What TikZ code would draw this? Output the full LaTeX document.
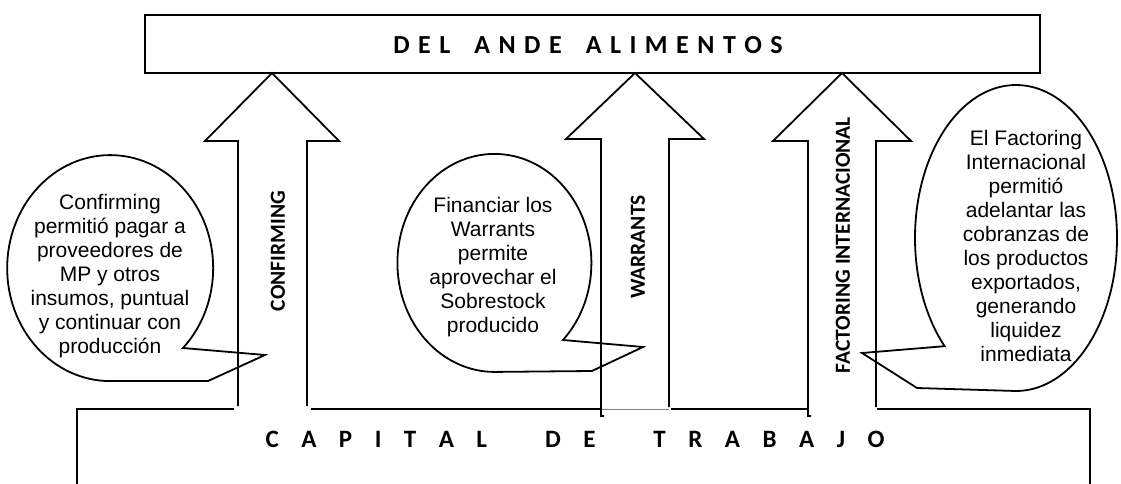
\documentclass[tikz,border=0pt]{standalone}
\usepackage{fontspec}
\setmainfont{Liberation Sans}
\newfontfamily\calibri{Carlito}

% letras separadas: \espaciado{hueco}{PALABRA}
\makeatletter
\newcommand\espaciado[2]{\def\es@gap{#1}\@tfor\es@c:=#2\do{\es@c\hspace{\es@gap}}\unskip}
\makeatother

\begin{document}
\begin{tikzpicture}[x=1pt, y=-1pt, line width=1.8pt,
		burbuja/.style={font=\fontsize{21}{24}\selectfont, align=center},
		etiqueta/.style={font=\calibri\bfseries\fontsize{21.5}{24}\selectfont, rotate=90},
		titulo/.style={font=\calibri\bfseries\fontsize{26}{28}\selectfont}]
	\useasboundingbox (0,0) rectangle (1121,484);

	%Del Ande Alimentos (arriba)
	\draw (145,15) rectangle (1040,73);
	\node[titulo] (ande) at (588,45) {\espaciado{8.5pt}{DEL}\hspace{24pt}\espaciado{8.5pt}{ANDE}\hspace{24pt}\espaciado{8.5pt}{ALIMENTOS}};

	%Capital de trabajo (abajo, abierto en las flechas)
	\draw (234,409) -- (77,409) -- (77,490);
	\draw (311,409) -- (600,409);
	\draw[gray, line width=0.6pt] (601,409) -- (669,409);
	\draw (671,409) -- (807,409);
	\draw (877,409) -- (1090,409) -- (1090,490);
	\node[titulo, font=\calibri\bfseries\fontsize{25}{26}\selectfont] (capital) at (575,439) {\espaciado{22.5pt}{CAPITAL}\hspace{58pt}\espaciado{22.5pt}{DE}\hspace{58pt}\espaciado{22.5pt}{TRABAJO}};

	%Burbujas
	\draw (183,348) arc[start angle=45, end angle=-270, x radius=103, y radius=113] -- (208,381) -- (265,355) -- cycle;
	\node[burbuja] (txtconf) at (110,276) {Confirming\\permitió pagar a\\proveedores de\\MP y otros\\insumos, puntual\\y continuar con\\producción};
	\draw (563,340) arc[start angle=45, end angle=-270, x radius=97, y radius=109] -- (592,371) -- (643,347) -- cycle;
	\node[burbuja] (txtwarr) at (493,267) {Financiar los\\Warrants\\permite\\aprovechar el\\Sobrestock\\producido};
	\draw (1016,391) arc[start angle=90, end angle=-225, x radius=101, y radius=153] -- (862,353) -- (917,388) -- cycle;
	\node[burbuja] (txtfact) at (1026,246) {El Factoring\\Internacional\\permitió\\adelantar las\\cobranzas de\\los productos\\exportados,\\generando\\liquidez\\inmediata};

	%Flechas
	\draw (238,406) -- (238,141) -- (205,141) -- (272,73) -- (339,141) -- (307,141) -- (307,406);
	\node[etiqueta] (confirming) at (278,251) {CONFIRMING};
	\draw (604,416) -- (601,416) -- (601,139) -- (566,139) -- (635,73) -- (704,139) -- (669,139) -- (669,407);
	\node[etiqueta] (warrants) at (638,247) {WARRANTS};
	\draw (811,416) -- (808,416) -- (808,141) -- (773,141) -- (842,73) -- (911,141) -- (876,141) -- (876,407);
	\node[etiqueta] (factoring) at (843,245) {FACTORING INTERNACIONAL};
\end{tikzpicture}
\end{document}
